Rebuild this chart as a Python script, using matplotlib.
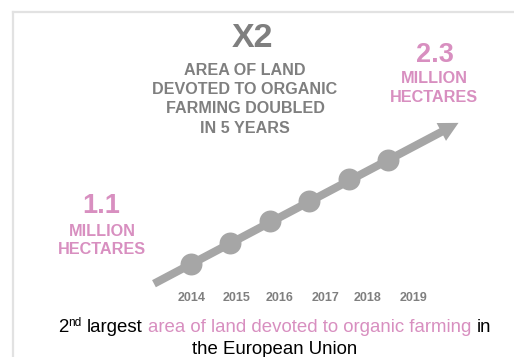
import matplotlib
matplotlib.use("Agg")
import matplotlib.pyplot as plt
from matplotlib import font_manager
from matplotlib.patches import FancyArrowPatch
from matplotlib.lines import Line2D

# ---------------- data ----------------
years = [2014, 2015, 2016, 2017, 2018, 2019]
trend_values = [1.1, 1.35, 1.60, 1.83, 2.08, 2.3]   # visual heights of the points (million ha)
start_label = "1.1"
end_label = "2.3"
unit_lines = ["MILLION", "HECTARES"]
headline = "X2"
sub_lines = ["AREA OF LAND", "DEVOTED TO ORGANIC", "FARMING DOUBLED", "IN 5 YEARS"]
year_labels = ["2014", "2015", "2016", "2017", "2018", "2019"]

# ---------------- style / layout ----------------
W, H, DPI = 514, 357, 100
GRAY_TXT = "#7f7f7f"
GRAY_LINE = "#a6a6a6"
PINK = "#d88fc0"
BORDER = "#e2e2e2"

def has_font(name):
    try:
        font_manager.findfont(font_manager.FontProperties(family=name), fallback_to_default=False)
        return True
    except Exception:
        return False

BASE = "Liberation Sans" if has_font("Liberation Sans") else "DejaVu Sans"
NARROW = "Liberation Sans Narrow" if has_font("Liberation Sans Narrow") else BASE
plt.rcParams["font.family"] = [BASE, "DejaVu Sans"]

fig = plt.figure(figsize=(W / DPI, H / DPI), dpi=DPI)
fig.patch.set_facecolor("white")

# axes mapping (pixel anchors of the first point and scale)
px_per_year = 39.5
x0_px = 190.7
px_per_val = 104.3 / 1.2
y0_px = 264.3
ax = fig.add_axes([0, 0, 1, 1])
ax.set_xlim(years[0] - x0_px / px_per_year, years[0] + (W - x0_px) / px_per_year)
ax.set_ylim(trend_values[0] - (H - y0_px) / px_per_val,
            trend_values[0] + y0_px / px_per_val)
ax.axis("off")

# arrow: extends beyond first/last points along the trend
slope = (trend_values[-1] - trend_values[0]) / (years[-1] - years[0])
ext_before, ext_after = 0.93, 1.78
tail = (years[0] - ext_before, trend_values[0] - ext_before * slope)
tip = (years[-1] + ext_after, trend_values[-1] + ext_after * slope)
arrow = FancyArrowPatch(tail, tip,
                        arrowstyle="simple,head_length=14,head_width=14.5,tail_width=5.8",
                        mutation_scale=1, color=GRAY_LINE, lw=0,
                        shrinkA=0, shrinkB=0, zorder=2)
ax.add_patch(arrow)
ax.plot(years, trend_values, linestyle="none", marker="o", markersize=15.8,
        color=GRAY_LINE, markeredgewidth=0, zorder=3)

# helper for pixel-placed text (y from top)
def ptext(x, y, s, **kw):
    return fig.text(x / W, 1 - y / H, s, **kw)

# year labels
year_label_x = [192, 237, 279.5, 326, 367, 414]
for xl, lab in zip(year_label_x, year_labels):
    ptext(xl, 301, lab, ha="center", va="baseline", fontsize=9,
          fontweight="bold", color=GRAY_TXT, family=[NARROW, "DejaVu Sans"])

# headline
ptext(252.5, 46.7, "X\u200a2" if False else headline, ha="center", va="baseline",
      fontsize=24.5, fontweight="bold", color=GRAY_TXT)
for i, line in enumerate(sub_lines):
    ptext(245, 75 + i * 19.2, line, ha="center", va="baseline", fontsize=11.6,
          fontweight="bold", color=GRAY_TXT)

# end value
ptext(435, 61.5, end_label, ha="center", va="baseline", fontsize=19.5,
      fontweight="bold", color=PINK)
for i, line in enumerate(unit_lines):
    ptext(434, 83.3 + i * 18.4, line, ha="center", va="baseline", fontsize=11.7,
          fontweight="bold", color=PINK)

# start value
ptext(101, 213.3, start_label, ha="center", va="baseline", fontsize=19.5,
      fontweight="bold", color=PINK)
for i, line in enumerate(unit_lines):
    ptext(102, 235.7 + i * 18.4, line, ha="center", va="baseline", fontsize=11.7,
          fontweight="bold", color=PINK)

# bottom caption with superscript and coloured span
fig.canvas.draw()
renderer = fig.canvas.get_renderer()
FS = 13.4

def width_px(s, fs, weight="normal"):
    t = fig.text(0, 0, s, fontsize=fs, fontweight=weight)
    w = t.get_window_extent(renderer).width
    t.remove()
    return w

space = width_px("x x", FS) - width_px("xx", FS)
pieces = [("2", FS, "black", 0, 0), ("nd", 8.6, "black", 6.0, space),
          ("largest", FS, "black", 0, space),
          ("area of land devoted to organic farming", FS, PINK, 0, space),
          ("in", FS, "black", 0, 0)]
widths = [width_px(p[0], p[1]) for p in pieces]
total = sum(widths) + sum(p[4] for p in pieces)
cx = 274.5
x = cx - total / 2
base1 = 332.5
for (s, fs, col, rise, gap), w in zip(pieces, widths):
    ptext(x, base1 - rise, s, ha="left", va="baseline", fontsize=fs, color=col)
    x += w + gap
ptext(cx, 354, "the European Union", ha="center", va="baseline", fontsize=FS, color="black")

# frame (top/left edges of a light card)
fig.add_artist(Line2D([13 / W, 13 / W], [0, 1 - 12 / H], transform=fig.transFigure,
                      color=BORDER, lw=1.6))
fig.add_artist(Line2D([13 / W, 1], [1 - 12 / H, 1 - 12 / H], transform=fig.transFigure,
                      color=BORDER, lw=1.6))

fig.savefig("out.png", dpi=DPI, facecolor="white")
